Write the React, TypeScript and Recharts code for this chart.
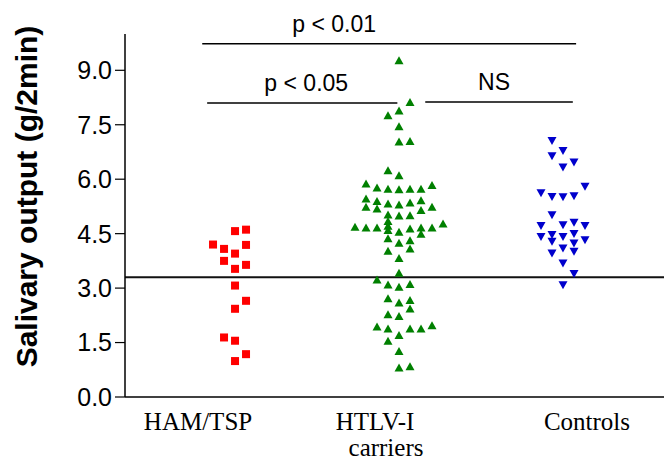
import React from "react";
import { Label, ReferenceLine, Scatter, ScatterChart, XAxis, YAxis } from "recharts";

// group labels (one array per line of text) and y ticks
const categoryLines = [["HAM/TSP"], ["HTLV-I", "carriers"], ["Controls"]];
const yTicks = [0, 1.5, 3, 4.5, 6, 7.5, 9];
const cutoff = 3.3;

// values; cols = beeswarm column of each dot
const hamValues = [4.57, 4.61, 4.2, 4.08, 4.19, 3.95, 3.75, 3.53, 3.64, 3.07, 2.65, 2.43, 1.64, 1.55, 1.18, 0.99];
const hamCols = [0, 1, -2, -1, 1, 0, -1, 0, 1, 0, 1, 0, -1, 0, 1, 0];

const carrierValues = [
  9.28, 8.13, 7.89, 7.76, 7.46, 7.04, 7.05, 6.25, 6.11,
  5.88, 5.77, 5.74, 5.72, 5.74, 5.74, 5.84,
  5.47, 5.4, 5.33, 5.3, 5.36, 5.42, 5.24,
  5.24, 5.19,
  5.03, 5.0, 5.01, 5.15,
  4.85, 4.72, 4.6,
  4.69, 4.67, 4.67, 4.55, 4.64, 4.67, 4.5, 4.67, 4.78,
  4.37, 4.25, 4.32,
  4.03, 3.83, 4.09,
  3.42, 3.24,
  3.1, 3.04, 3.11,
  2.72, 2.6, 2.67, 2.44,
  2.28, 2.23,
  1.94, 1.89, 1.71, 1.89, 1.89, 1.98,
  1.55, 1.27,
  0.81, 0.85
];
const carrierCols = [
  0, 1, 0, -1, 0, 0, 1, -1, 0,
  -3, -2, -1, 0, 1, 2, 3,
  -3, -2, -1, 0, 1, 2, 3,
  -3, -2,
  -1, 0, 1, 2,
  -1, -1, -1,
  -4, -3, -2, 0, 1, 2, 2, 3, 4,
  -1, 0, 1,
  -1, 0, 1,
  0, -2,
  -1, 0, 1,
  -1, 0, 1, 1,
  -1, 0,
  -2, -1, 0, 1, 2, 3,
  -1, 0,
  0, 1
];

const controlValues = [
  7.05, 6.78, 6.63, 6.32, 6.46, 5.79, 5.61, 5.51, 5.5, 5.53,
  5.01, 4.71, 4.73, 4.8, 4.71, 4.41, 4.46, 4.28, 4.41, 4.49,
  4.23, 4.32, 3.95, 4.09, 4.0, 3.68, 3.39, 3.08
];
const controlCols = [
  -1, 0, -1, 0, 1, 2, -2, -1, 0, 1,
  -1, -2, 0, 1, 2, -2, -1, -1, 0, 1,
  1, 2, -1, 0, 1, 0, 1, 0
];

const brackets = [
  { label: "p < 0.01", from: 0.8, to: 3.08, y: 9.73, dx: -55 },
  { label: "p < 0.05", from: 0.83, to: 1.99, y: 8.1, dx: 4 },
  { label: "NS", from: 2.16, to: 3.06, y: 8.13, dx: -5 }
];

const COL_STEP = 11 / 164;
const SANS = "'Liberation Sans', Arial, sans-serif";
const SERIF = "'Liberation Serif', 'Times New Roman', serif";
const labelShift = [[-37], [-24, -13], [24]];

const toPoints = (group: number, values: number[], cols: number[]) =>
  values.map((v, i) => ({ x: group + cols[i] * COL_STEP, y: v }));

const hamData = toPoints(1, hamValues, hamCols);
const carrierData = toPoints(2, carrierValues, carrierCols);
const controlData = toPoints(3, controlValues, controlCols);

const Square = (p: any) => <rect x={p.cx - 4} y={p.cy - 4} width={8} height={8} fill="#ff0000" />;
const TriUp = (p: any) => (
  <path d={`M${p.cx},${p.cy - 4} L${p.cx + 4.5},${p.cy + 4} L${p.cx - 4.5},${p.cy + 4} Z`} fill="#008000" />
);
const TriDown = (p: any) => (
  <path d={`M${p.cx - 4.5},${p.cy - 4} L${p.cx + 4.5},${p.cy - 4} L${p.cx},${p.cy + 4} Z`} fill="#0000cc" />
);

function CategoryTick({ x, y, payload }: any) {
  const i = Math.round(payload.value) - 1;
  const lines = categoryLines[i] ?? [];
  return (
    <g>
      {lines.map((t, j) => (
        <text
          key={t}
          x={x + labelShift[i][j]}
          y={y + 33 + j * 26}
          textAnchor="middle"
          fontFamily={SERIF}
          fontSize={25}
          fill="#000"
        >
          {t}
        </text>
      ))}
    </g>
  );
}

function YTitle({ viewBox }: any) {
  const cx = 37;
  const cy = viewBox.y + viewBox.height / 2 - 19;
  return (
    <text
      x={cx}
      y={cy}
      transform={`rotate(-90, ${cx}, ${cy})`}
      textAnchor="middle"
      fontFamily={SANS}
      fontWeight="bold"
      fontSize={30}
      fill="#000"
    >
      Salivary output (g/2min)
    </text>
  );
}

const bracketLabel = (text: string, dx: number) => ({ viewBox }: any) => (
  <text
    x={viewBox.x + viewBox.width / 2 + dx}
    y={viewBox.y - 12}
    textAnchor="middle"
    fontFamily={SANS}
    fontSize={23}
    fill="#000"
  >
    {text}
  </text>
);

export default function App() {
  return (
    <div>
      <style>{"body{margin:0}"}</style>
      <ScatterChart width={664} height={467} margin={{ top: 34, right: 0, bottom: 0, left: 0 }}>
        <XAxis
          type="number"
          dataKey="x"
          domain={[0.329, 3.616]}
          ticks={[1, 2, 3]}
          allowDataOverflow
          height={70}
          tickLine={false}
          tickSize={0}
          tickMargin={0}
          axisLine={{ stroke: "#000", strokeWidth: 1.5 }}
          tick={<CategoryTick />}
        />
        <YAxis
          type="number"
          dataKey="y"
          domain={[0, 10]}
          ticks={yTicks}
          width={125}
          tickSize={10}
          tickMargin={3}
          tickFormatter={(v: number) => v.toFixed(1)}
          axisLine={{ stroke: "#000", strokeWidth: 1.5 }}
          tickLine={{ stroke: "#000", strokeWidth: 1.2 }}
          tick={{ fill: "#000", fontSize: 25, fontFamily: SANS }}
        >
          <Label content={<YTitle />} />
        </YAxis>
        <ReferenceLine y={cutoff} stroke="#111" strokeWidth={2} />
        {brackets.map((b) => (
          <ReferenceLine
            key={b.label}
            segment={[
              { x: b.from, y: b.y },
              { x: b.to, y: b.y }
            ]}
            stroke="#000"
            strokeWidth={1.5}
            label={bracketLabel(b.label, b.dx)}
          />
        ))}
        <Scatter data={hamData} shape={Square} isAnimationActive={false} />
        <Scatter data={carrierData} shape={TriUp} isAnimationActive={false} />
        <Scatter data={controlData} shape={TriDown} isAnimationActive={false} />
      </ScatterChart>
    </div>
  );
}
